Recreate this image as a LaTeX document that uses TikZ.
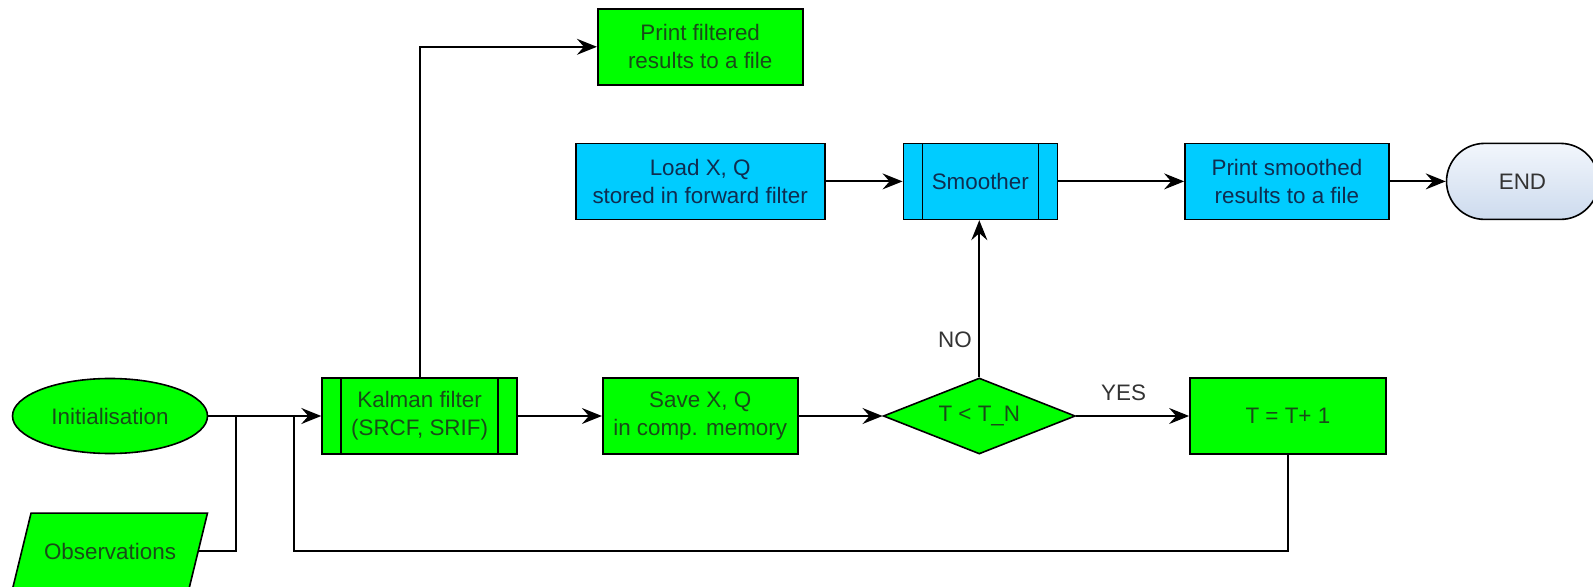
\documentclass[tikz,border=0pt]{standalone}
\usepackage{fontspec}
\setmainfont{Liberation Sans}
\usetikzlibrary{shapes.geometric,arrows.meta,positioning}
\definecolor{boxgreen}{RGB}{0,255,0}
\definecolor{boxblue}{RGB}{0,204,255}
\definecolor{txtgreen}{RGB}{25,75,25}
\definecolor{txtblue}{RGB}{15,45,80}
\definecolor{endtop}{RGB}{242,246,252}
\definecolor{endbottom}{RGB}{205,219,238}

\begin{document}
\begin{tikzpicture}[font=\fontsize{11.2}{14}\selectfont,
    box/.style={draw,align=center,minimum height=38pt,inner sep=2pt,line width=0.8pt},
    gbox/.style={box,fill=boxgreen,text=txtgreen},
    bbox/.style={box,fill=boxblue,text=txtblue},
    sub/.style={path picture={\draw[line width=0.8pt] ([xshift=9.5pt]path picture bounding box.north west) -- ([xshift=9.5pt]path picture bounding box.south west) ([xshift=-9.5pt]path picture bounding box.north east) -- ([xshift=-9.5pt]path picture bounding box.south east);}},
    arr/.style={-{Stealth[length=10pt,width=8pt,inset=3.5pt]},line width=0.9pt}]
    \useasboundingbox (0,0) rectangle (796.5pt,-293.5pt);
    \clip (0,0) rectangle (796.5pt,-293.5pt);

    \node[gbox,ellipse,minimum width=97.5pt,minimum height=37.5pt] (Init) at (55pt,-208pt) {Initialisation};
    \node[gbox,sub,minimum width=97.5pt,right=56.5pt of Init] (Kalman) {Kalman filter\\(SRCF, SRIF)};
    \node[gbox,minimum width=97.5pt,right=42pt of Kalman] (Save) {Save X, Q\\in comp. memory};
    \node[gbox,diamond,aspect=2.5,inner sep=1pt,minimum width=96pt,minimum height=38pt,right=42pt of Save] (Test) {T < T\_N};
    \node[gbox,minimum width=98pt,right=56.5pt of Test] (Incr) {T = T+ 1};
    \node[bbox,minimum width=124.5pt,above=78.5pt of Save] (Load) {Load X, Q\\stored in forward filter};
    \node[gbox,minimum width=102.5pt,above=28.5pt of Load] (PrintF) {Print filtered\\results to a file};
    \node[bbox,sub,minimum width=77pt,right=38.5pt of Load] (Smooth) {Smoother};
    \node[bbox,minimum width=102pt,right=63pt of Smooth] (PrintS) {Print smoothed\\results to a file};
    \node[draw,rounded corners=19pt,minimum width=76pt,minimum height=38pt,top color=endtop,bottom color=endbottom,text=black!80,line width=0.8pt,right=28pt of PrintS] (End) {END};
    \node[gbox,trapezium,trapezium left angle=76,trapezium right angle=104,trapezium stretches body=true,inner ysep=14.5pt,minimum width=97.5pt,minimum height=38pt,below=29pt of Init] (Obs) {Observations};

    \coordinate[right=14pt of Init.east] (JObs);
    \coordinate[right=43pt of Init.east] (JLoop);

    \draw[arr] (Init) -- (Kalman);
    \draw[line width=0.9pt] (Obs.east) -| (JObs);
    \draw[line width=0.9pt] (Incr.south) |- (JLoop |- Obs.east) -- (JLoop);
    \draw[arr] (Kalman) |- (PrintF);
    \draw[arr] (Kalman) -- (Save);
    \draw[arr] (Save) -- (Test);
    \draw[arr] (Test) -- node[pos=0.42,above=4pt,text=black!80] (Yes) {YES} (Incr);
    \draw[arr] (Test.north) -- node[pos=0.24,left,text=black!80] (No) {NO} (Test.north |- Smooth.south);
    \draw[arr] (Load) -- (Smooth);
    \draw[arr] (Smooth) -- (PrintS);
    \draw[arr] (PrintS) -- (End);
\end{tikzpicture}
\end{document}
